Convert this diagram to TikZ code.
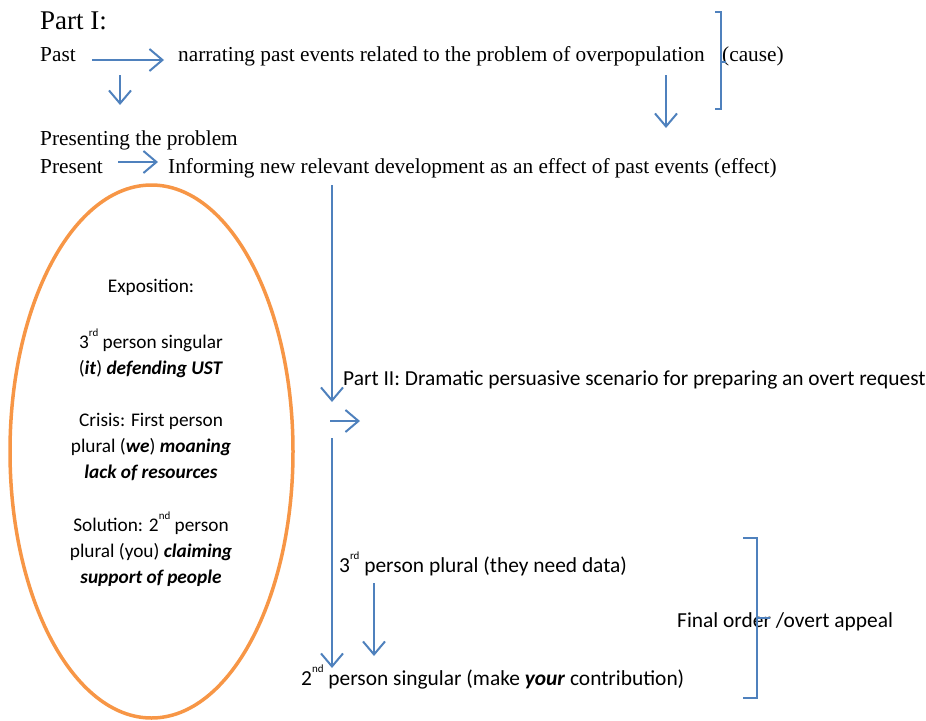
\documentclass[tikz,border=0pt]{standalone}
\usepackage{fontspec}
\setmainfont{Liberation Serif}
\newfontfamily\calib{Carlito}
\usetikzlibrary{arrows.meta}
\definecolor{myblue}{HTML}{4F81BD}
\definecolor{myorange}{HTML}{F79646}
\newcommand{\mysupx}[1]{\raisebox{0.6em}{\fontsize{11}{11}\selectfont #1}}
\tikzset{
  arr/.style={draw=myblue, line width=2pt, -{Straight Barb[length=13pt,width=22pt,line width=2pt]}},
  brk/.style={draw=myblue, line width=1.7pt},
  tm/.style={inner sep=0pt, anchor=base west, font=\fontsize{21.3}{25}\selectfont},
  cb/.style={inner sep=0pt, anchor=base west, font=\calib\fontsize{21.4}{25}\selectfont},
}
\begin{document}
\begin{tikzpicture}[x=1pt,y=-1pt]
\useasboundingbox (0,0) rectangle (926,720);
% Part I
\node[tm, font=\fontsize{27}{31}\selectfont] (part1) at (40,29) {Part I:};
\node[tm] (past) at (40,61) {Past};
\node[tm] (narr) at (178,61) {narrating past events related to the problem of overpopulation};
\node[tm] (cause) at (722,61) {(cause)};
\node[tm] (prob) at (40,145) {Presenting the problem};
\node[tm] (present) at (40,173) {Present};
\node[tm] (inf) at (168,173) {Informing new relevant development as an effect of past events (effect)};
% arrows part I
\coordinate (pa1) at (92,60);
\coordinate (pa2) at (164,60);
\draw[arr] (pa1) -- (pa2);
\coordinate (d1s) at (120,75);
\coordinate (d1e) at (120,105);
\draw[arr] (d1s) -- (d1e);
\coordinate (d2s) at (666,75);
\coordinate (d2e) at (666,128);
\draw[arr] (d2s) -- (d2e);
\coordinate (pr1) at (118,162);
\coordinate (pr2) at (158,162);
\draw[arr] (pr1) -- (pr2);
% bracket top
\draw[brk] (715,12) -- (721,12) -- (721,109) -- (715,109);
\draw[brk] (721,62) -- (726,62);
% Part II
\node[cb] (part2) at (343,385) {Part II: Dramatic persuasive scenario for preparing an overt request};
\coordinate (v1s) at (332,185);
\coordinate (v1e) at (332,402);
\draw[arr] (v1s) -- (v1e);
\coordinate (r1s) at (330,421);
\coordinate (r1e) at (360,421);
\draw[arr] (r1s) -- (r1e);
\coordinate (v2s) at (332,438);
\coordinate (v2e) at (332,668);
\draw[arr] (v2s) -- (v2e);
\node[cb] (third) at (339,572) {3\mysupx{rd} person plural (they need data)};
\coordinate (v3s) at (374,583);
\coordinate (v3e) at (374,656);
\draw[arr] (v3s) -- (v3e);
\node[cb] (second) at (301,685) {2\mysupx{nd} person singular (make \textbf{\textit{your}} contribution)};
\node[cb] (final) at (677,627) {Final order /overt appeal};
% bracket bottom
\draw[brk] (743,538) -- (757,538) -- (757,698) -- (743,698);
\draw[brk] (757,618) -- (770,618);
% ellipse
\draw[draw=myorange, line width=3.5pt] (151.5,451.5) ellipse [x radius=141.5, y radius=266.5];
\node[inner sep=0pt, align=center, anchor=north, font=\calib\fontsize{19.3}{26}\selectfont] (expo) at (151,279) {Exposition:\\[30pt]
3\mysupx{rd} person singular\\
(\textbf{\textit{it}}) \textbf{\textit{defending UST}}\\[26pt]
Crisis: First person\\
plural (\textbf{\textit{we}}) \textbf{\textit{moaning}}\\
\textbf{\textit{lack of resources}}\\[27pt]
Solution: 2\mysupx{nd} person\\
plural (you) \textbf{\textit{claiming}}\\
\textbf{\textit{support of people}}};
\end{tikzpicture}
\end{document}
